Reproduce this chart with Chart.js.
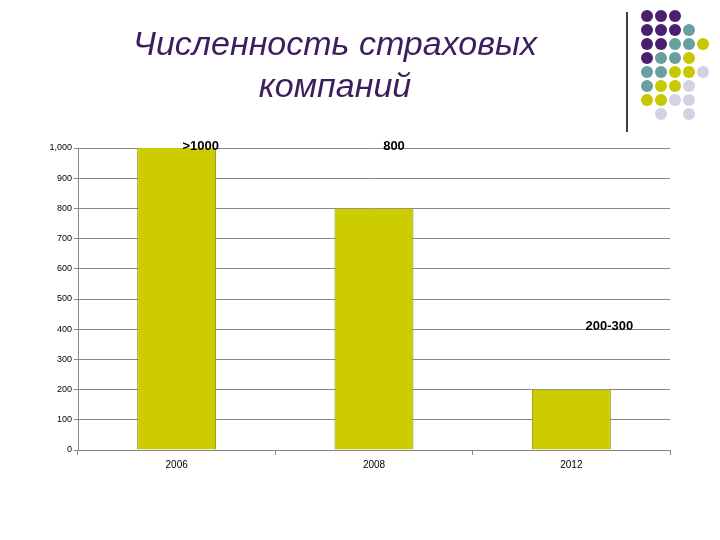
<!DOCTYPE html><html><head><meta charset="utf-8">
<script src="https://cdn.jsdelivr.net/npm/chart.js@4"></script>
<style>html,body{margin:0;background:#fff}#w{width:720px;height:540px}</style></head><body>
<div id="w"><canvas id="c"></canvas></div>
<script>
const categories=['2006','2008','2012'];
const values=[1000,800,200];
const barLabels=['>1000','800','200-300'];
const yTicks=[0,100,200,300,400,500,600,700,800,900,1000];
const P='#4b1f6f',T='#6a9fa0',Y='#c8c800',L='#d2d2e2';
const dots=[[P,P,P],[P,P,P,T],[P,P,T,T,Y],[P,T,T,Y],[T,T,Y,Y,L],[T,Y,Y,L],[Y,Y,L,L],[null,L,null,L]];
const deco={id:'deco',afterDraw(ch){const c=ch.ctx;c.save();
c.fillStyle='#3c1d5e';c.font='italic 34px "Liberation Sans"';c.textAlign='center';c.textBaseline='middle';
c.fillText('Численность страховых',335,46);c.fillText('компаний',335,88);
c.strokeStyle='#000';c.lineWidth=1.5;c.beginPath();c.moveTo(627,12);c.lineTo(627,132);c.stroke();
dots.forEach((r,i)=>r.forEach((col,j)=>{if(!col)return;c.fillStyle=col;c.beginPath();c.arc(647+j*14,16+i*14,6,0,Math.PI*2);c.fill();}));
const m=ch.getDatasetMeta(0);c.fillStyle='#000';c.font='bold 13px "Liberation Sans"';c.textBaseline='alphabetic';
const pos=[[24,150],[20,150],[38,330]];
m.data.forEach((b,i)=>{c.fillText(barLabels[i],b.x+pos[i][0],i<2?pos[i][1]:pos[i][1]);});
c.restore();}};
new Chart(document.getElementById('c'),{type:'bar',data:{labels:categories,datasets:[{data:values,backgroundColor:'#cccc00',borderColor:'#8a8a00',borderWidth:{left:1,right:1,top:0},barPercentage:0.8,categoryPercentage:0.5}]},
options:{responsive:true,maintainAspectRatio:false,animation:false,devicePixelRatio:1,
layout:{padding:{left:0,right:50,top:148,bottom:65}},
plugins:{legend:{display:false},tooltip:{enabled:false}},
scales:{x:{grid:{drawOnChartArea:false,offset:true,tickLength:5,color:'#888'},border:{color:'#888'},ticks:{color:'#000',font:{size:10,family:'Liberation Sans'},padding:4}},
y:{min:0,max:1000,afterFit(s){s.width=78;},afterBuildTicks(s){s.ticks=yTicks.map(v=>({value:v}));},grid:{color:'#888',tickLength:4},border:{color:'#888'},ticks:{color:'#000',font:{size:9,family:'Liberation Sans'},padding:2}}}},
plugins:[deco]});
</script></body></html>
